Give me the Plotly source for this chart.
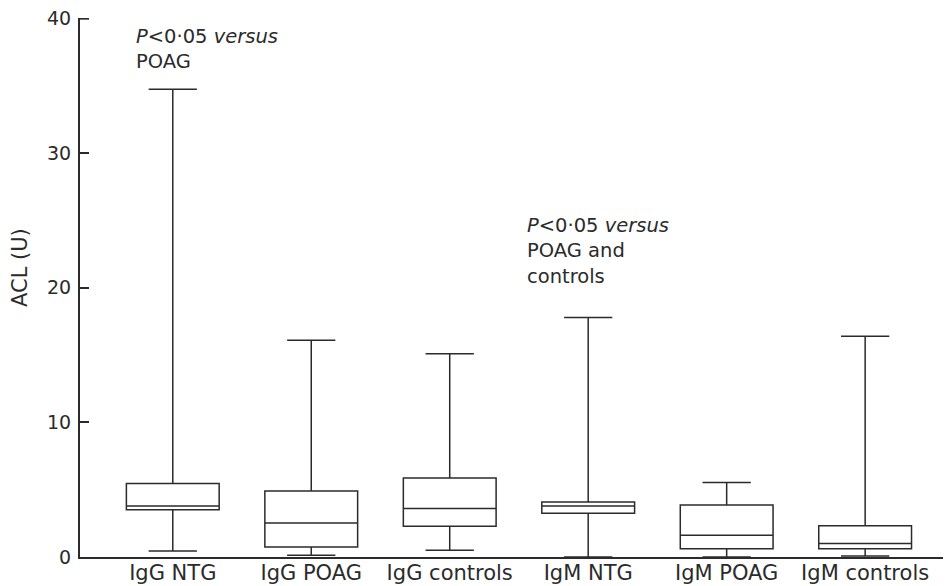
import plotly.graph_objects as go

categories = ["IgG NTG", "IgG POAG", "IgG controls", "IgM NTG", "IgM POAG", "IgM controls"]
lower = [0.45, 0.13, 0.5, 0.0, 0.0, 0.07]
q1 = [3.52, 0.74, 2.28, 3.25, 0.62, 0.62]
median = [3.79, 2.53, 3.6, 3.79, 1.61, 1.0]
q3 = [5.46, 4.9, 5.87, 4.09, 3.87, 2.33]
upper = [34.76, 16.1, 15.1, 17.8, 5.53, 16.4]
y_ticks = [0, 10, 20, 30, 40]

FONT = "DejaVu Sans, Liberation Sans, Arial, sans-serif"
INK = "#2b2b2b"

# page has an 8px body margin; plot area in page pixels: left 80, right 951, top 18, bottom 557
PL, PR, PT, PB = 80, 951, 18, 557


def px_to_paper(x, y):
    return (x - PL) / (PR - PL), (PB - y) / (PB - PT)


fig = go.Figure()
fig.add_trace(go.Box(
    x=categories,
    q1=q1, median=median, q3=q3,
    lowerfence=lower, upperfence=upper,
    width=0.67,
    whiskerwidth=0.52,
    fillcolor="white",
    line=dict(color=INK, width=1.5),
    boxpoints=False,
    showlegend=False,
    hoverinfo="skip",
))

fig.add_annotation(x=-0.28, y=40, xref="x", yref="y", xanchor="left", yanchor="top",
                   text="<i>P</i>&lt;0·05 <i>versus</i><br>POAG", showarrow=False, align="left",
                   font=dict(family=FONT, size=19.5, color=INK), yshift=-4)
fig.add_annotation(x=2.545, y=25.4, xref="x", yref="y", xanchor="left", yanchor="top",
                   text="<i>P</i>&lt;0·05 <i>versus</i><br>POAG and<br>controls", showarrow=False, align="left",
                   font=dict(family=FONT, size=19.5, color=INK), yshift=3)
tx, ty = px_to_paper(20, 268)
fig.add_annotation(x=tx, y=ty, xref="paper", yref="paper", text="ACL (U)", showarrow=False,
                   textangle=-90, xanchor="center", yanchor="middle",
                   font=dict(family=FONT, size=21, color=INK))

# top tick mark (plotly drops the inside tick at the very top edge)
fig.add_shape(type="line", xref="paper", yref="y", x0=0, x1=9 / (PR - PL),
              y0=y_ticks[-1], y1=y_ticks[-1], line=dict(color=INK, width=2))

fig.update_layout(
    width=943, height=578,
    margin=dict(l=72, r=0, t=10, b=29),
    plot_bgcolor="white", paper_bgcolor="white",
    font=dict(family=FONT, size=18, color=INK),
    xaxis=dict(
        type="category",
        range=[-0.67, 5.62],
        showline=True, linecolor=INK, linewidth=2,
        showgrid=False, zeroline=False, automargin=False,
        ticks="", tickfont=dict(size=21), ticklabelstandoff=-4,
    ),
    yaxis=dict(
        range=[0, 40.05],
        tickvals=y_ticks,
        showline=True, linecolor=INK, linewidth=2,
        showgrid=False, zeroline=False, automargin=False,
        ticks="inside", ticklen=9, tickwidth=2, tickcolor=INK,
        tickfont=dict(size=19), ticklabelstandoff=3,
        ticklabeloverflow="allow",
    ),
)

fig.write_html("out.html")
